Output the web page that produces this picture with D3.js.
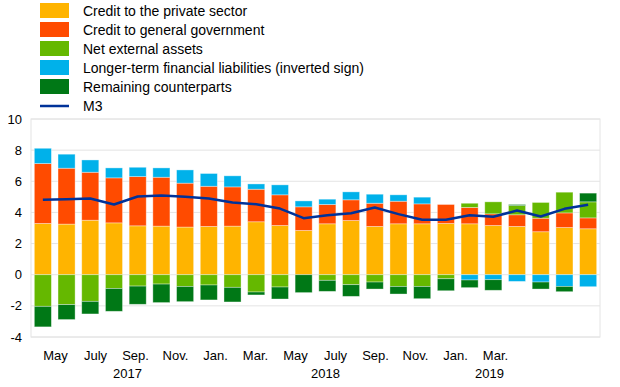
<!DOCTYPE html>
<html>
<head>
<meta charset="utf-8">
<script src="https://cdn.jsdelivr.net/npm/d3@7"></script>
<style>
  body { margin: 0; background: #fff; }
  text { font-family: "Liberation Sans", Arial, sans-serif; fill: #000; }
</style>
</head>
<body>
<div id="chart"></div>
<script>
// months Apr 2017 .. Mar 2019
const months = ["2017-04","2017-05","2017-06","2017-07","2017-08","2017-09","2017-10","2017-11","2017-12",
  "2018-01","2018-02","2018-03","2018-04","2018-05","2018-06","2018-07","2018-08","2018-09","2018-10","2018-11","2018-12",
  "2019-01","2019-02","2019-03"]

const privateSector = [3.29,3.25,3.50,3.33,3.14,3.12,3.06,3.10,3.12,3.40,3.16,2.84,3.27,3.48,3.10,3.27,3.27,3.29,3.27,3.16,3.10,2.76,3.03,2.95]
const government    = [3.85,3.59,3.08,2.89,3.16,3.14,2.82,2.58,2.52,2.09,1.97,1.52,1.24,1.33,1.49,1.45,1.28,1.22,1.05,0.75,0.75,0.87,0.94,0.70]
const netExternal   = [-2.03,-1.92,-1.71,-0.88,-0.73,-0.60,-0.75,-0.66,-0.81,-1.11,-0.79,0,-0.36,-0.64,-0.47,-0.75,-0.75,-0.26,0.27,0.77,0.59,1.01,1.33,1.03]
const longerTerm    = [0.98,0.90,0.79,0.64,0.60,0.60,0.85,0.82,0.71,0.34,0.64,0.38,0.34,0.51,0.58,0.41,0.43,0,-0.34,-0.32,-0.43,-0.47,-0.75,-0.77]
const remaining     = [-1.32,-0.96,-0.81,-1.47,-1.17,-1.19,-0.98,-0.96,-0.94,-0.19,-0.77,-1.15,-0.71,-0.75,-0.45,-0.49,-0.79,-0.77,-0.49,-0.68,0.07,-0.45,-0.34,0.56]
const m3            = [4.81,4.85,4.89,4.51,5.02,5.09,5.00,4.89,4.64,4.53,4.25,3.63,3.82,3.95,4.32,3.89,3.53,3.53,3.82,3.72,4.12,3.74,4.23,4.49]

const seriesNames = ["Credit to the private sector","Credit to general government","Net external assets",
  "Longer-term financial liabilities (inverted sign)","Remaining counterparts"]
const seriesColors = ["#ffb400","#ff4b00","#65b800","#00b1ea","#007816"]
const lineColor = "#003299"

const yTicks = [-4,-2,0,2,4,6,8,10]
const tickMonths = ["May","July","Sep.","Nov.","Jan.","Mar.","May","July","Sep.","Nov.","Jan.","Mar."]
const years = ["2017","2018","2019"]
const yearSpot = [4.6, 14.5, 22.7]   // month index the year label sits under

/* ---------- setup ---------- */
const width = 620, height = 387
const margin = { left: 31, right: 20, top: 119, bottom: 50 }

const keys = ["p","g","n","l","r"]
const rows = months.map((m, i) => ({
  month: m, p: privateSector[i], g: government[i], n: netExternal[i], l: longerTerm[i], r: remaining[i], m3: m3[i]
}))

const svg = d3.select("#chart").append("svg")
  .attr("width", width).attr("height", height)

const x = d3.scaleBand()
  .domain(months)
  .range([margin.left, width - margin.right])
  .paddingInner(0.28).paddingOuter(0.14)

// month labels in the reference run on a tighter spacing than the bars
const xLab = d3.scaleLinear().domain([0, 23]).range([35.5, 495.5])

const y = d3.scaleLinear().domain([-4, 10]).range([height - margin.bottom, margin.top])

/* ---------- grid + frame ---------- */
svg.append("g").selectAll("line")
  .data(yTicks).enter().append("line")
  .attr("x1", margin.left).attr("x2", width - margin.right)
  .attr("y1", d => y(d)).attr("y2", d => y(d))
  .attr("stroke", "#e4e4e4").attr("stroke-width", 1)

svg.append("rect")
  .attr("x", margin.left).attr("y", y(10))
  .attr("width", width - margin.right - margin.left).attr("height", y(-4) - y(10))
  .attr("fill", "none").attr("stroke", "#e4e4e4")

svg.append("g").selectAll("text")
  .data(yTicks).enter().append("text")
  .attr("x", 22).attr("y", d => y(d)).attr("dy", "0.35em")
  .attr("text-anchor", "end").attr("font-size", 13)
  .text(d => d)

/* ---------- bars ---------- */
const stack = d3.stack().keys(keys).offset(d3.stackOffsetDiverging)
const layers = stack(rows)

svg.append("g").selectAll("g")
  .data(layers).enter().append("g")
  .attr("fill", (d, i) => seriesColors[i])
  .selectAll("rect")
  .data(d => d.filter(s => s[1] !== s[0])).enter().append("rect")
  .attr("x", d => x(d.data.month))
  .attr("width", x.bandwidth())
  .attr("y", d => y(Math.max(d[0], d[1])))
  .attr("height", d => Math.abs(y(d[0]) - y(d[1])))
  .attr("stroke", "#ffffff").attr("stroke-opacity", 0.45).attr("stroke-width", 0.8)

/* ---------- M3 line ---------- */
svg.append("path")
  .datum(rows)
  .attr("fill", "none").attr("stroke", lineColor).attr("stroke-width", 2.5)
  .attr("stroke-linejoin", "round")
  .attr("d", d3.line().x(d => x(d.month) + x.bandwidth() / 2).y(d => y(d.m3)))

/* ---------- x labels ---------- */
svg.append("g").selectAll("text")
  .data(tickMonths).enter().append("text")
  .attr("x", (d, i) => xLab(1 + i * 2)).attr("y", 360)
  .attr("text-anchor", "middle").attr("font-size", 13)
  .text(d => d)

svg.append("g").selectAll("text")
  .data(years).enter().append("text")
  .attr("x", (d, i) => xLab(yearSpot[i])).attr("y", 378)
  .attr("text-anchor", "middle").attr("font-size", 13)
  .text(d => d)

/* ---------- legend ---------- */
const legend = svg.append("g")
seriesNames.forEach((name, i) => {
  legend.append("rect")
    .attr("x", 40).attr("y", 3 + i * 19).attr("width", 29).attr("height", 15)
    .attr("fill", seriesColors[i])
  legend.append("text")
    .attr("x", 83).attr("y", 11 + i * 19).attr("dy", "0.35em")
    .attr("font-size", 14).text(name)
})
legend.append("line")
  .attr("x1", 40).attr("x2", 69).attr("y1", 106).attr("y2", 106)
  .attr("stroke", lineColor).attr("stroke-width", 2.5)
legend.append("text")
  .attr("x", 83).attr("y", 106).attr("dy", "0.35em")
  .attr("font-size", 14).text("M3")
</script>
</body>
</html>
